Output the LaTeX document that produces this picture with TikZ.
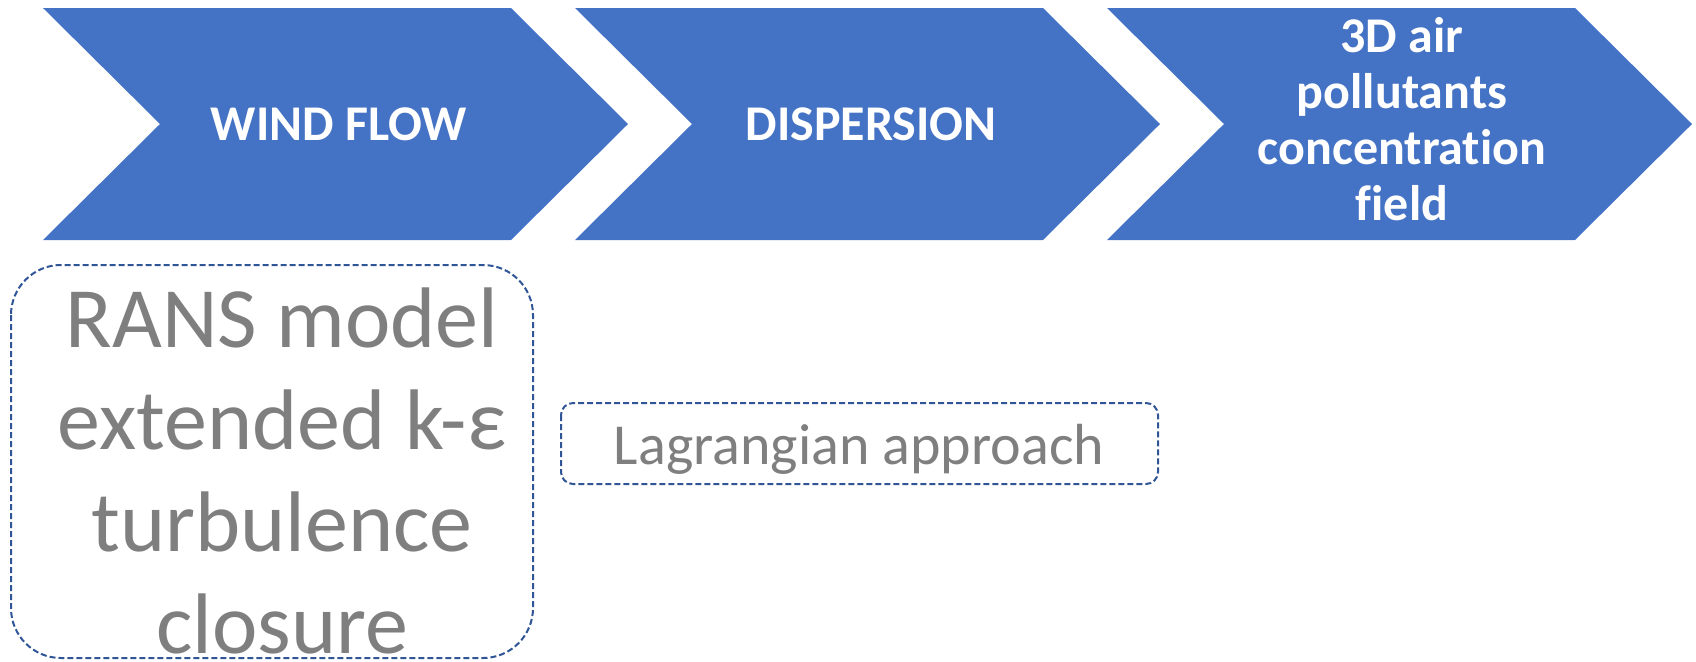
\documentclass[tikz,border=0pt]{standalone}
\usepackage{fontspec}
\setmainfont{Carlito}[Ligatures={NoCommon}]
\usepackage{tikz}
\definecolor{chevblue}{HTML}{4472C4}
\definecolor{edgeblue}{HTML}{2F5597}
\definecolor{notegray}{HTML}{7F7F7F}
\tikzset{
  chevron/.style={fill=chevblue, draw=none},
  steptext/.style={text=white, align=center, font=\fontsize{25}{28}\selectfont\bfseries},
  notebox/.style={draw=edgeblue, line width=1pt, dash pattern=on 3pt off 1.5pt},
  notetext/.style={text=notegray, align=center}
}

\begin{document}
\begin{tikzpicture}[x=0.5pt, y=-0.5pt]

    \useasboundingbox (0,0) rectangle (1696,661);

    % three chevrons along the top
    \foreach \s in {0,532,1064} {
        \fill[chevron] (43+\s,8) -- (511+\s,8) -- (628+\s,124) -- (511+\s,240)
            -- (43+\s,240) -- (160+\s,124) -- cycle;
    }

    \node[steptext] (wind) at (339,124) {WIND FLOW};
    \node[steptext] (disp) at (871,124) {DISPERSION};
    \node[steptext] (field) at (1402,119) {3D air\\pollutants\\concentration\\field};

    % method boxes below
    \draw[notebox, rounded corners=25pt] (11,265) rectangle (533,658);
    \draw[notebox, rounded corners=6pt] (561,403) rectangle (1158,484);

    \node[notetext, font=\fontsize{43}{51}\selectfont] (rans) at (282,471)
        {RANS model\\extended k-ε\\turbulence\\closure};
    \node[notetext, font=\fontsize{29}{34}\selectfont] (lagr) at (859,449)
        {Lagrangian approach};

\end{tikzpicture}
\end{document}
